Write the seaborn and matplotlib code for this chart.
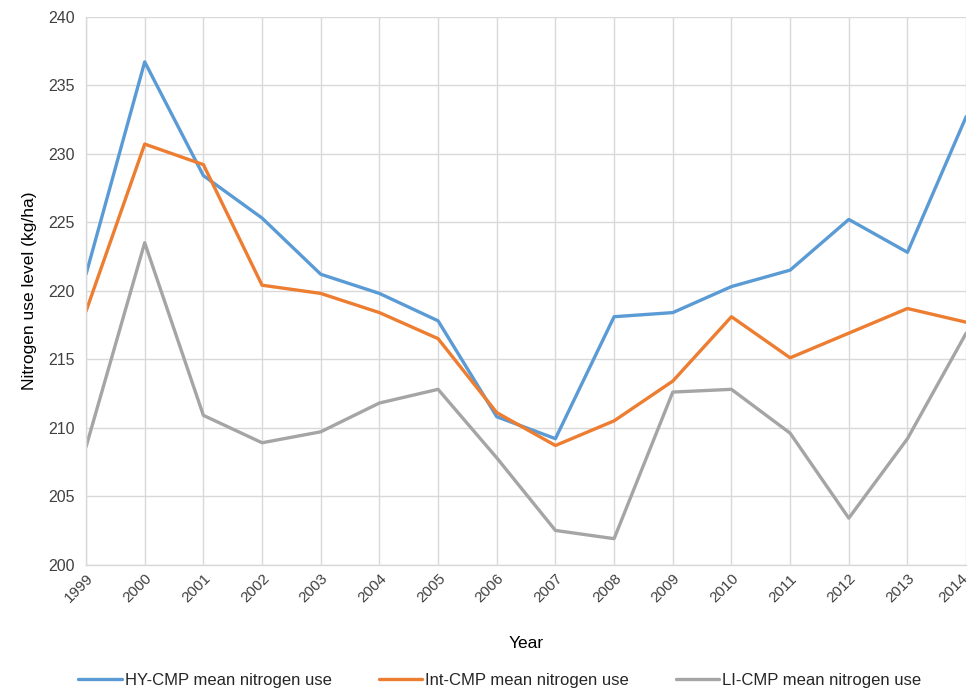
import pandas as pd
import seaborn as sns
import matplotlib.pyplot as plt
import matplotlib.transforms as mtransforms

# Values
years = list(range(1999, 2015))
hy_cmp = [221.2, 236.7, 228.4, 225.3, 221.2, 219.8, 217.8, 210.8,
          209.2, 218.1, 218.4, 220.3, 221.5, 225.2, 222.8, 232.7]
int_cmp = [218.5, 230.7, 229.2, 220.4, 219.8, 218.4, 216.5, 211.1,
           208.7, 210.5, 213.4, 218.1, 215.1, 216.9, 218.7, 217.7]
li_cmp = [208.6, 223.5, 210.9, 208.9, 209.7, 211.8, 212.8, 207.8,
          202.5, 201.9, 212.6, 212.8, 209.6, 203.4, 209.2, 216.9]

series_names = ["HY-CMP mean nitrogen use", "Int-CMP mean nitrogen use", "LI-CMP mean nitrogen use"]
colors = ["#5B9BD5", "#ED7D31", "#A5A5A5"]

df = pd.DataFrame({"Year": years, series_names[0]: hy_cmp,
                   series_names[1]: int_cmp, series_names[2]: li_cmp})
long_df = df.melt(id_vars="Year", var_name="Series", value_name="Nitrogen")

sns.set_style("white")
plt.rcParams['font.family'] = ['Liberation Sans', 'DejaVu Sans']

fig = plt.figure(figsize=(9.71, 6.94), dpi=100)
ax = fig.add_axes([0.0886, 0.1863, 0.9064, 0.7897])

sns.lineplot(data=long_df, x="Year", y="Nitrogen", hue="Series",
             palette=colors, linewidth=2.4, ax=ax, legend=True)

ax.set_xlim(1999, 2014)
ax.set_ylim(200, 240)
ax.set_xticks(years)
ax.set_xticklabels([str(y) for y in years], rotation=45, ha="right",
                   rotation_mode="anchor", fontsize=11, color="#404040")
ax.set_yticks(range(200, 241, 5))
ax.tick_params(axis="y", labelsize=11.5, labelcolor="#404040", length=0, pad=8)
ax.tick_params(axis="x", length=0, pad=5)
ax.grid(True, color="#d9d9d9", linewidth=1)
ax.set_axisbelow(True)
for side in ["top", "right"]:
    ax.spines[side].set_visible(False)
for side in ["left", "bottom"]:
    ax.spines[side].set_color("#d9d9d9")
    ax.spines[side].set_linewidth(1)

# nudge the last year label so it stays inside the canvas
last = ax.get_xticklabels()[-1]
last.set_transform(last.get_transform() +
                   mtransforms.ScaledTranslation(-6 / 100, 0, fig.dpi_scale_trans))

ax.set_xlabel("Year", fontsize=12.5, color="#000000", labelpad=22)
ax.set_ylabel("Nitrogen use level (kg/ha)", fontsize=12.5, color="#000000", labelpad=8)

handles, labels = ax.get_legend_handles_labels()
ax.get_legend().remove()
fig.legend(handles, labels, loc="center", bbox_to_anchor=(500 / 971, 1 - 680 / 694),
           ncol=3, frameon=False, fontsize=12, handlelength=2.6,
           handletextpad=0.2, columnspacing=2.8)

plt.savefig("out.png", dpi=100)
